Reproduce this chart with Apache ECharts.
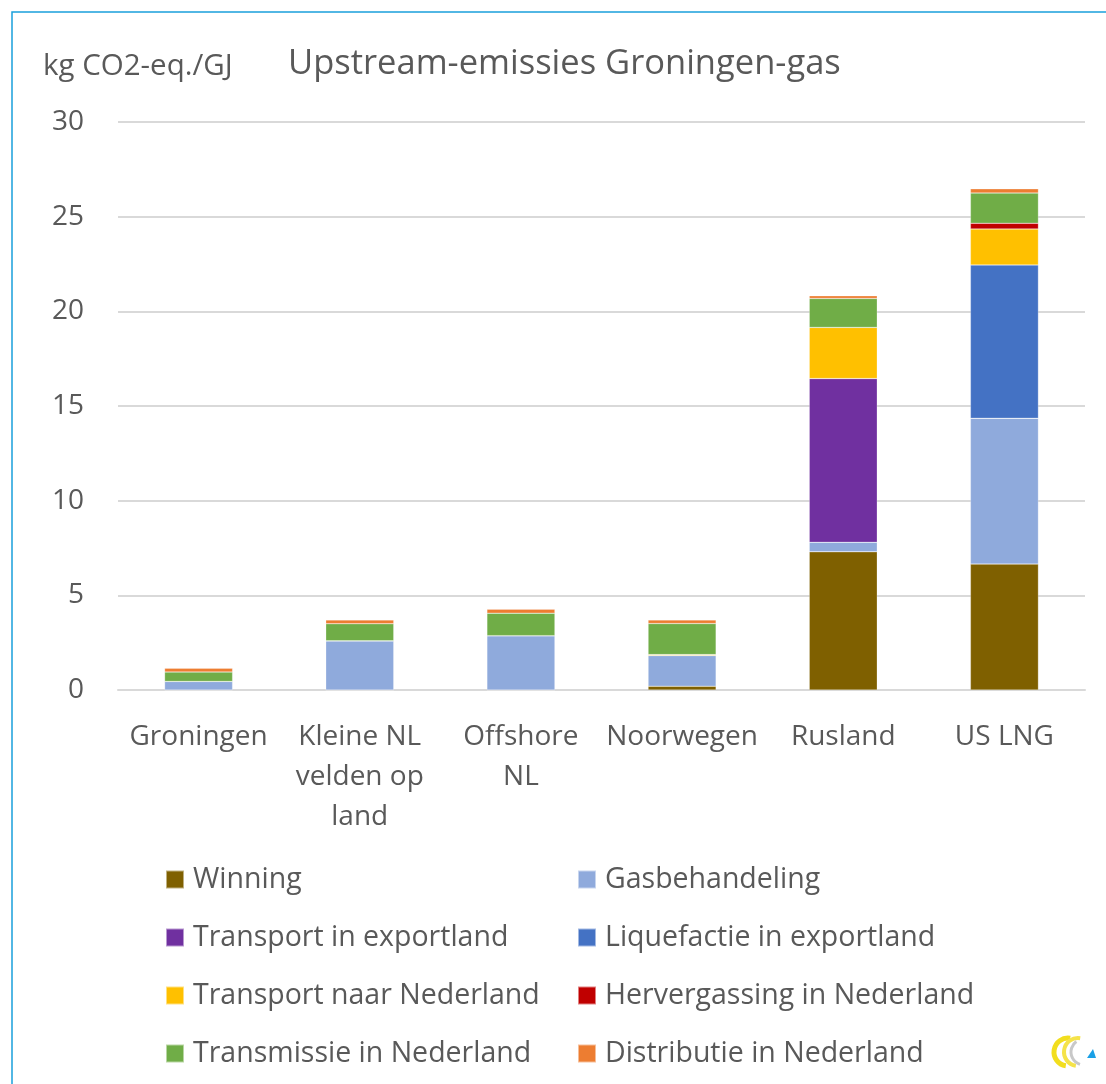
<!DOCTYPE html>
<html>
<head>
<meta charset="UTF-8">
<title>Upstream-emissies Groningen-gas</title>
<script src="https://cdn.jsdelivr.net/npm/echarts@6/dist/echarts.min.js"></script>
<style type="text/css">
	html,body{
		margin: 0;
		padding: 0;
		background: #fff;
	}
	#main{
		width: 1106px;
		height: 1084px;
	}
</style>
</head>
<body>
<div id="main"></div>
<script type="text/javascript">
	// categorieen en waarden (kg CO2-eq./GJ)
	var categories = ['Groningen', 'Kleine NL\nvelden op\nland', 'Offshore\nNL', 'Noorwegen', 'Rusland', 'US LNG'];
	var winning = [0, 0, 0, 0.2, 7.3, 6.65];
	var gasbehandeling = [0.45, 2.6, 2.87, 1.62, 0.5, 7.7];
	var transportExport = [0, 0, 0, 0, 8.65, 0];
	var liquefactie = [0, 0, 0, 0, 0, 8.1];
	var transportNL = [0, 0, 0, 0.05, 2.7, 1.9];
	var hervergassing = [0, 0, 0, 0, 0, 0.3];
	var transmissie = [0.5, 0.9, 1.19, 1.64, 1.53, 1.6];
	var distributie = [0.2, 0.2, 0.21, 0.19, 0.14, 0.22];
	var yTicks = [0, 5, 10, 15, 20, 25, 30];

	var font = 'Open Sans';
	var textColor = '#595959';

	var seriesList = [
		{name: 'Winning', color: '#7F6000', data: winning},
		{name: 'Gasbehandeling', color: '#8FAADC', data: gasbehandeling},
		{name: 'Transport in exportland', color: '#7030A0', data: transportExport},
		{name: 'Liquefactie in exportland', color: '#4472C4', data: liquefactie},
		{name: 'Transport naar Nederland', color: '#FFC000', data: transportNL},
		{name: 'Hervergassing in Nederland', color: '#C00000', data: hervergassing},
		{name: 'Transmissie in Nederland', color: '#70AD47', data: transmissie},
		{name: 'Distributie in Nederland', color: '#ED7D31', data: distributie}
	];

	var series = seriesList.map(function(s){
		return {
			name: s.name,
			type: 'bar',
			stack: 'totaal',
			barWidth: 68,
			itemStyle: {color: s.color, borderColor: 'rgba(255,255,255,0.5)', borderWidth: 0.5},
			data: s.data
		};
	});

	var legendBase = {
		orient: 'vertical',
		itemWidth: 18,
		itemHeight: 18,
		itemGap: 29,
		icon: 'rect',
		textStyle: {fontFamily: font, fontSize: 28.5, color: textColor, lineHeight: 28, padding: [0, 0, 0, 4]}
	};
	var legendLeft = Object.assign({}, legendBase, {
		left: 160, top: 860,
		data: ['Winning', 'Transport in exportland', 'Transport naar Nederland', 'Transmissie in Nederland']
	});
	var legendRight = Object.assign({}, legendBase, {
		left: 572, top: 860,
		data: ['Gasbehandeling', 'Liquefactie in exportland', 'Hervergassing in Nederland', 'Distributie in Nederland']
	});

	var myChart = echarts.init(document.getElementById('main'));
	var option = {
		animation: false,
		backgroundColor: '#fff',
		title: [
			{text: 'kg CO2-eq./GJ', left: 38, top: 47, textStyle: {fontFamily: font, fontSize: 29.5, fontWeight: 'normal', color: textColor}},
			{text: 'Upstream-emissies Groningen-gas', left: 283, top: 42, textStyle: {fontFamily: font, fontSize: 34.5, fontWeight: 'normal', color: textColor}}
		],
		legend: [legendLeft, legendRight],
		grid: {left: 118, right: 21, top: 122, bottom: 394, containLabel: false},
		xAxis: {
			type: 'category',
			data: categories,
			axisTick: {show: false},
			axisLine: {lineStyle: {color: '#D9D9D9', width: 2}},
			axisLabel: {fontFamily: font, fontSize: 28, color: textColor, lineHeight: 40, margin: 27, interval: 0}
		},
		yAxis: {
			type: 'value',
			min: yTicks[0],
			max: yTicks[yTicks.length - 1],
			interval: 5,
			axisLine: {show: false},
			axisTick: {show: false},
			splitLine: {lineStyle: {color: '#D9D9D9', width: 2}},
			axisLabel: {fontFamily: font, fontSize: 28, color: textColor, margin: 34}
		},
		graphic: [
			{type: 'polyline', shape: {points: [[12, 1084], [12, 12], [1106, 12]]}, style: {stroke: '#1AA0DB', lineWidth: 1.5, fill: null}},
			// logo rechtsonder
			{type: 'arc', shape: {cx: 1068, cy: 1052, r: 14, startAngle: Math.PI * 0.55, endAngle: Math.PI * 1.55}, style: {stroke: '#F2DE1E', lineWidth: 5, fill: null}},
			{type: 'arc', shape: {cx: 1078, cy: 1052, r: 14, startAngle: Math.PI * 0.55, endAngle: Math.PI * 1.55}, style: {stroke: '#F5E34A', lineWidth: 4, fill: null}},
			{type: 'arc', shape: {cx: 1084, cy: 1052, r: 13, startAngle: Math.PI * 0.6, endAngle: Math.PI * 1.3}, style: {stroke: '#C8C8C8', lineWidth: 3, fill: null}},
			{type: 'polygon', shape: {points: [[1096, 1058], [1087, 1058], [1093, 1049]]}, style: {fill: '#1AA0E6'}}
		],
		series: series
	};
	myChart.setOption(option);
</script>
</body>
</html>
